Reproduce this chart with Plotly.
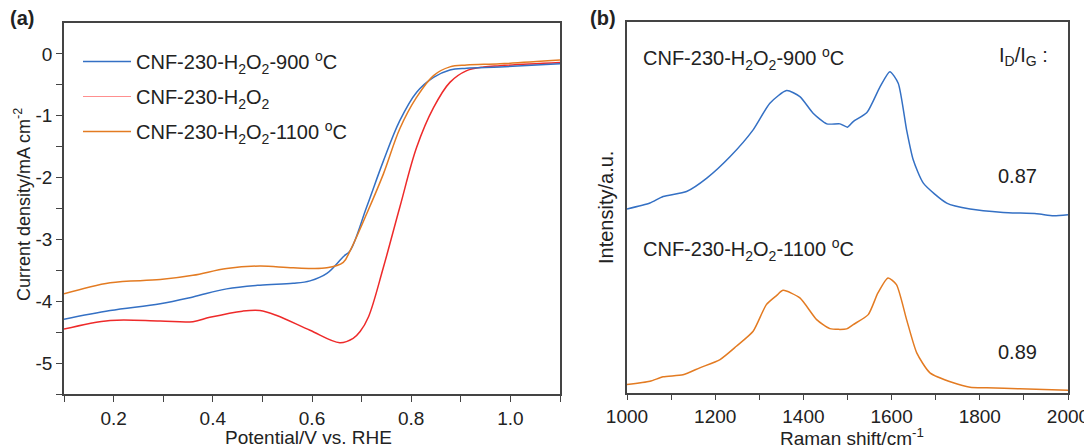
import plotly.graph_objects as go

# ---- Panel (a): LSV curves ----
pot_blue = [0.10, 0.193, 0.294, 0.36, 0.428, 0.495, 0.562, 0.596, 0.63, 0.663, 0.677, 0.71,
            0.744, 0.777, 0.811, 0.845, 0.878, 0.912, 0.979, 1.10]
j_blue = [-4.29, -4.15, -4.04, -3.93, -3.80, -3.74, -3.71, -3.67, -3.55, -3.28, -3.18, -2.48,
          -1.73, -1.08, -0.62, -0.38, -0.26, -0.23, -0.21, -0.16]

pot_red = [0.10, 0.193, 0.294, 0.36, 0.394, 0.46, 0.495, 0.529, 0.596, 0.656, 0.683, 0.697, 0.714,
           0.744, 0.777, 0.811, 0.845, 0.878, 0.912, 0.946, 0.979, 1.10]
j_red = [-4.45, -4.31, -4.32, -4.33, -4.26, -4.16, -4.15, -4.23, -4.47, -4.67, -4.60, -4.49, -4.25,
         -3.45, -2.48, -1.51, -0.87, -0.46, -0.27, -0.21, -0.19, -0.14]

pot_orange = [0.10, 0.193, 0.294, 0.36, 0.428, 0.495, 0.562, 0.63, 0.663, 0.677, 0.71,
              0.744, 0.777, 0.811, 0.845, 0.878, 0.912, 0.979, 1.10]
j_orange = [-3.88, -3.70, -3.65, -3.58, -3.47, -3.43, -3.46, -3.46, -3.37, -3.18, -2.59,
            -1.94, -1.21, -0.70, -0.35, -0.21, -0.18, -0.16, -0.10]

# ---- Panel (b): Raman spectra (a.u.) ----
raman_blue_x = [1000, 1052, 1082, 1135, 1181, 1234, 1286, 1324, 1362, 1392, 1422, 1453, 1483, 1500,
                1513, 1544, 1574, 1596, 1615, 1634, 1649, 1672, 1725, 1778, 1853, 1929, 1967, 2000]
raman_blue_y = [183.7, 189.7, 196.3, 201.3, 214.7, 236.3, 263, 289.7, 302.3, 296.3, 279.7, 269, 269,
                265.7, 271.3, 280.3, 306.3, 321.3, 309.7, 263, 233, 209.7, 189.7, 183.7, 180.3, 179,
                177, 178]

raman_orange_x = [1000, 1052, 1082, 1127, 1165, 1211, 1248, 1286, 1316, 1339, 1354, 1392, 1430, 1460,
                  1498, 1513, 1547, 1569, 1592, 1611, 1634, 1657, 1687, 1740, 1778, 1816, 1891, 2000]
raman_orange_y = [8, 11.3, 15.7, 17.7, 24.7, 33, 46.3, 61.3, 88, 97, 102.3, 94.7, 73, 64, 63.7, 68,
                  78, 99.7, 114.7, 108, 73, 39.7, 19.7, 9.7, 5.3, 4.7, 3.7, 2.3]

names = ["CNF-230-H<sub>2</sub>O<sub>2</sub>-900 <sup>o</sup>C",
         "CNF-230-H<sub>2</sub>O<sub>2</sub>",
         "CNF-230-H<sub>2</sub>O<sub>2</sub>-1100 <sup>o</sup>C"]
ratio_labels = ["0.87", "0.89"]
pot_ticks = [0.2, 0.4, 0.6, 0.8, 1.0]
pot_ticktext = ["0.2", "0.4", "0.6", "0.8", "1.0"]
j_ticks = [-5, -4, -3, -2, -1, 0]
j_ticktext = ["-5", "-4", "-3", "-2", "-1", "0"]
raman_ticks = [1000, 1200, 1400, 1600, 1800, 2000]

BLUE = "#3470c4"
RED = "#ee2a2a"
ORANGE = "#e37b22"
PINK = "#ff8f8f"
TXT = "#222222"
AX = "#444444"
FONT = "Arial, Liberation Sans, sans-serif"

OFF = 8  # page body margin
W, H = 1092 - OFF, 448 - OFF
def px(x): return (x - OFF) / W
def py(y): return 1 - (y - OFF) / H

fig = go.Figure()
fig.add_trace(go.Scatter(x=pot_red, y=j_red, mode="lines", line=dict(color=RED, width=1.5, shape="spline"),
                         showlegend=False, xaxis="x", yaxis="y"))
fig.add_trace(go.Scatter(x=pot_blue, y=j_blue, mode="lines", line=dict(color=BLUE, width=1.5, shape="spline"),
                         name=names[0], legendgroup="a", xaxis="x", yaxis="y"))
fig.add_trace(go.Scatter(x=[None], y=[None], mode="lines", line=dict(color=PINK, width=1),
                         name=names[1], legendgroup="b", xaxis="x", yaxis="y"))
fig.add_trace(go.Scatter(x=pot_orange, y=j_orange, mode="lines", line=dict(color=ORANGE, width=1.5, shape="spline"),
                         name=names[2], legendgroup="c", xaxis="x", yaxis="y"))

fig.add_trace(go.Scatter(x=raman_blue_x, y=raman_blue_y, mode="lines",
                         line=dict(color=BLUE, width=1.5, shape="spline", smoothing=0.6),
                         showlegend=False, xaxis="x2", yaxis="y2"))
fig.add_trace(go.Scatter(x=raman_orange_x, y=raman_orange_y, mode="lines",
                         line=dict(color=ORANGE, width=1.5, shape="spline", smoothing=0.6),
                         showlegend=False, xaxis="x2", yaxis="y2"))

axis_common = dict(showline=True, linecolor=AX, linewidth=1.5, mirror=True, showgrid=False, zeroline=False,
                   tickfont=dict(family=FONT, size=19, color=TXT), tickcolor=AX,
                   ticklen=6, tickwidth=1.3, automargin=False)
minor_common = dict(ticks="outside", ticklen=6, tickcolor=AX, tickwidth=1.3)

fig.update_layout(
    width=W, height=H, margin=dict(l=0, r=0, t=0, b=0, autoexpand=False),
    paper_bgcolor="white", plot_bgcolor="white",
    font=dict(family=FONT, color=TXT),
    xaxis=dict(domain=[px(64), px(560)], range=[0.1, 1.1], tickvals=pot_ticks, ticktext=pot_ticktext,
               ticks="outside", minor=dict(tickvals=[0.1, 0.3, 0.5, 0.7, 0.9, 1.1], **minor_common),
               anchor="y", **axis_common),
    yaxis=dict(domain=[py(394), py(23)], range=[-5.5, 0.5], tickvals=j_ticks, ticktext=j_ticktext,
               ticks="outside", minor=dict(tickvals=[-5.5, -4.5, -3.5, -2.5, -1.5, -0.5], **minor_common),
               anchor="x", **axis_common),
    xaxis2=dict(domain=[px(627), px(1068)], range=[1000, 2000], tickvals=raman_ticks,
                ticks="outside", minor=dict(tickvals=[1100, 1300, 1500, 1700, 1900], **minor_common),
                anchor="y2", **axis_common),
    yaxis2=dict(domain=[py(392.5), py(22)], range=[0, 371], showticklabels=False, ticks="",
                anchor="x2", **axis_common),
    legend=dict(x=px(78), y=py(42), xanchor="left", yanchor="top", bgcolor="rgba(0,0,0,0)",
                font=dict(family=FONT, size=20, color=TXT), tracegroupgap=6, itemwidth=48),
)

anns = [
    dict(x=px(8), y=py(18), text="<b>(a)</b>", xanchor="left", yanchor="middle", font=dict(size=20)),
    dict(x=px(588), y=py(18), text="<b>(b)</b>", xanchor="left", yanchor="middle", font=dict(size=20)),
    dict(x=px(308), y=py(437), text="Potential/V vs. RHE", xanchor="center", yanchor="middle", font=dict(size=19)),
    dict(x=px(22), y=py(205), text="Current density/mA cm<sup>-2</sup>", textangle=-90,
         xanchor="center", yanchor="middle", font=dict(size=18)),
    dict(x=px(852), y=py(437), text="Raman shift/cm<sup>-1</sup>", xanchor="center", yanchor="middle", font=dict(size=19)),
    dict(x=px(606), y=py(208), text="Intensity/a.u.", textangle=-90,
         xanchor="center", yanchor="middle", font=dict(size=20)),
    dict(x=px(641), y=py(58), text=names[0], xanchor="left", yanchor="middle", font=dict(size=20)),
    dict(x=px(641), y=py(249), text=names[2], xanchor="left", yanchor="middle", font=dict(size=20)),
    dict(x=px(997), y=py(56), text="I<sub>D</sub>/I<sub>G</sub> :", xanchor="left", yanchor="middle", font=dict(size=20)),
    dict(x=px(996), y=py(176), text=ratio_labels[0], xanchor="left", yanchor="middle", font=dict(size=20)),
    dict(x=px(996), y=py(352), text=ratio_labels[1], xanchor="left", yanchor="middle", font=dict(size=20)),
]
for a in anns:
    a.update(xref="paper", yref="paper", showarrow=False)
    a["font"] = dict(family=FONT, color=TXT, **a["font"])
fig.update_layout(annotations=anns)

fig.write_html("out.html")
